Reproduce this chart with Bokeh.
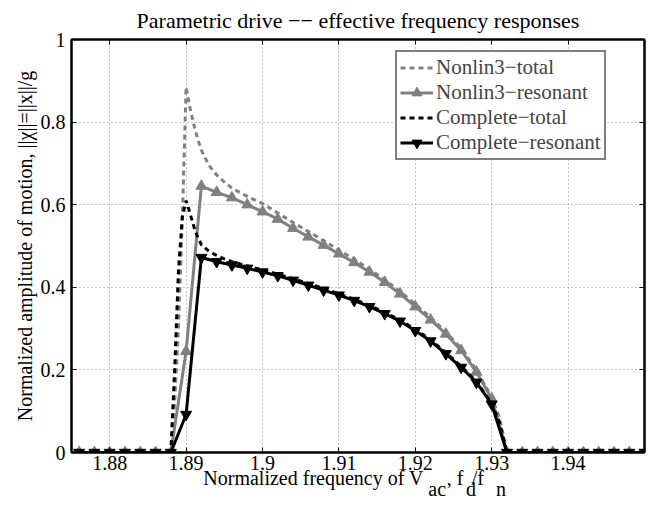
from bokeh.plotting import figure
from bokeh.models import Range1d, LinearAxis, FixedTicker, Label, Legend, LegendItem
from bokeh.embed import file_html
from bokeh.resources import INLINE

# ---------------- data ----------------
x_ticks = [1.88, 1.89, 1.90, 1.91, 1.92, 1.93, 1.94]
x_tick_labels = ["1.88", "1.89", "1.9", "1.91", "1.92", "1.93", "1.94"]
y_ticks = [0.0, 0.2, 0.4, 0.6, 0.8, 1.0]
y_tick_labels = ["0", "0.2", "0.4", "0.6", "0.8", "1"]

freq_res = [1.876, 1.878, 1.880, 1.882, 1.884, 1.886, 1.888,
            1.890, 1.892, 1.894, 1.896, 1.898, 1.900, 1.902, 1.904, 1.906,
            1.908, 1.910, 1.912, 1.914, 1.916, 1.918, 1.920, 1.922, 1.924,
            1.926, 1.928, 1.930,
            1.932, 1.934, 1.936, 1.938, 1.940, 1.942, 1.944, 1.946, 1.948, 1.950]
nonlin3_resonant = [0, 0, 0, 0, 0, 0, 0,
                    0.245, 0.645, 0.630, 0.617, 0.600, 0.583, 0.565, 0.543, 0.522,
                    0.502, 0.481, 0.460, 0.437, 0.412, 0.384, 0.353, 0.321, 0.287,
                    0.247, 0.195, 0.130,
                    0, 0, 0, 0, 0, 0, 0, 0, 0, 0]
complete_resonant = [0, 0, 0, 0, 0, 0, 0,
                     0.092, 0.472, 0.462, 0.454, 0.446, 0.437, 0.428, 0.417, 0.405,
                     0.393, 0.381, 0.368, 0.353, 0.336, 0.318, 0.295, 0.270, 0.239,
                     0.206, 0.170, 0.117,
                     0, 0, 0, 0, 0, 0, 0, 0, 0, 0]

freq_tot = [1.876, 1.878, 1.880, 1.882, 1.884, 1.886, 1.888,
            1.8885, 1.889, 1.8895, 1.890, 1.8905, 1.891, 1.8915, 1.892,
            1.893, 1.894, 1.895, 1.896, 1.898, 1.900, 1.902, 1.904, 1.906,
            1.908, 1.910, 1.912, 1.914, 1.916, 1.918, 1.920, 1.922, 1.924,
            1.926, 1.928, 1.930, 1.931,
            1.932, 1.934, 1.936, 1.938, 1.940, 1.942, 1.944, 1.946, 1.948, 1.950]
nonlin3_total = [0, 0, 0, 0, 0, 0, 0,
                 0.12, 0.30, 0.56, 0.885, 0.835, 0.795, 0.760, 0.732,
                 0.695, 0.672, 0.655, 0.640, 0.620, 0.603, 0.580, 0.557, 0.535,
                 0.513, 0.490, 0.468, 0.444, 0.418, 0.390, 0.359, 0.327, 0.292,
                 0.252, 0.200, 0.134, 0.085,
                 0, 0, 0, 0, 0, 0, 0, 0, 0, 0]
complete_total = [0, 0, 0, 0, 0, 0, 0,
                  0.20, 0.44, 0.57, 0.610, 0.580, 0.548, 0.522, 0.503,
                  0.487, 0.477, 0.469, 0.462, 0.452, 0.442, 0.432, 0.421, 0.409,
                  0.397, 0.384, 0.371, 0.356, 0.339, 0.321, 0.298, 0.273, 0.242,
                  0.209, 0.172, 0.119, 0.075,
                  0, 0, 0, 0, 0, 0, 0, 0, 0, 0]

series_names = ["Nonlin3\u2212total", "Nonlin3\u2212resonant",
                "Complete\u2212total", "Complete\u2212resonant"]
title_text = "Parametric drive \u2212\u2212 effective frequency responses"
ylabel_text = "Normalized amplitude of motion, ||\u03c7||=||x||/g"
# x label on two lines: main line (room left for the subscripts) and the subscript line
EM, SP3, SP4, SP6 = "\u2003", "\u2004", "\u2005", "\u2006"
xlabel_main = "Normalized frequency of V" + EM + SP6 + ", f" + SP4 + SP6 + "/f" + EM + SP4 + SP6
xlabel_subs = EM * 11 + SP4 + "ac" + EM + "d" + EM + "n" + SP3
xlabel_text = xlabel_main + "\n" + xlabel_subs

# ---------------- layout constants ----------------
W, H = 663, 508
FL, FR, FT, FB = 71, 644, 39, 452           # frame edges in page pixels
X0, X1, Y0, Y1 = 1.875, 1.95, 0.0, 1.0
SERIF = "Liberation Serif"
GRAY = "#808080"

p = figure(width=W, height=H, x_range=Range1d(X0, X1), y_range=Range1d(Y0, Y1),
           output_backend="svg", toolbar_location=None,
           min_border_left=FL, min_border_right=W - FR,
           min_border_top=FT, min_border_bottom=H - FB,
           background_fill_color="white", border_fill_color="white")
p.outline_line_color = "black"
p.outline_line_width = 2
p.title.text = ""

xax = p.xaxis[0]
yax = p.yaxis[0]
xax.ticker = FixedTicker(ticks=x_ticks)
xax.major_label_overrides = dict(zip(x_ticks, x_tick_labels))
yax.ticker = FixedTicker(ticks=y_ticks)
yax.major_label_overrides = dict(zip(y_ticks, y_tick_labels))
for ax, txt in [(xax, xlabel_text), (yax, ylabel_text)]:
    ax.axis_label = txt
    ax.axis_label_text_font = SERIF
    ax.axis_label_text_font_size = "20px"
    ax.axis_label_text_font_style = "normal"
    ax.axis_label_text_color = "black"
xax.axis_label_text_line_height = 0.5
yax.axis_label_standoff = 2
xax.axis_label_standoff = -6
xax.major_label_standoff = 3
yax.major_label_standoff = 6

top = LinearAxis(ticker=FixedTicker(ticks=x_ticks), major_label_text_color=None,
                 major_label_text_font_size="1px", major_label_standoff=0,
                 major_label_overrides={t: "" for t in x_ticks})
right = LinearAxis(ticker=FixedTicker(ticks=y_ticks), major_label_text_color=None,
                   major_label_text_font_size="1px", major_label_standoff=0,
                   major_label_overrides={t: "" for t in y_ticks})
p.add_layout(top, "above")
p.add_layout(right, "right")

for ax in [xax, yax, top, right]:
    ax.axis_line_color = "black"
    ax.axis_line_width = 2
    ax.major_tick_in = 5
    ax.major_tick_out = 0
    ax.major_tick_line_width = 1
    ax.minor_tick_line_color = None
    ax.major_label_text_font = SERIF
for ax in [xax, yax]:
    ax.major_label_text_font_size = "20px"
    ax.major_label_text_color = "black"

p.xgrid.ticker = FixedTicker(ticks=x_ticks)
p.ygrid.ticker = FixedTicker(ticks=y_ticks)
for g in [p.xgrid[0], p.ygrid[0]]:
    g.grid_line_color = "#8c8c8c"
    g.grid_line_width = 1
    g.grid_line_dash = "1 3"

r1 = p.line(freq_tot, nonlin3_total, line_color=GRAY, line_width=3, line_dash="5 4")
r2l = p.line(freq_res, nonlin3_resonant, line_color=GRAY, line_width=3)
r2m = p.scatter(freq_res, nonlin3_resonant, marker="triangle", size=11,
                fill_color=GRAY, line_color=GRAY)
r3 = p.line(freq_tot, complete_total, line_color="black", line_width=3, line_dash="5 4")
r4l = p.line(freq_res, complete_resonant, line_color="black", line_width=3)
r4m = p.scatter(freq_res, complete_resonant, marker="inverted_triangle", size=11,
                fill_color="black", line_color="black")

legend = Legend(items=[
    LegendItem(label=series_names[0], renderers=[r1]),
    LegendItem(label=series_names[1], renderers=[r2l, r2m]),
    LegendItem(label=series_names[2], renderers=[r3]),
    LegendItem(label=series_names[3], renderers=[r4l, r4m]),
], location=(395 - FL, FB - 160))
legend.label_text_font = SERIF
legend.label_text_font_size = "21px"
legend.label_standoff = 3
legend.glyph_width = 33
legend.glyph_height = 25
legend.label_height = 25
legend.spacing = -1
legend.padding = 3
legend.margin = 0
legend.border_line_color = "black"
legend.border_line_width = 2
legend.background_fill_color = "white"
legend.background_fill_alpha = 1
p.add_layout(legend)

# title, in the panel above the top axis (screen offsets inside that panel)
p.add_layout(Label(x=(FL + FR) / 2 - FL, y=19, x_units="screen", y_units="screen",
                   text=title_text, text_font=SERIF, text_font_size="22px",
                   text_align="center", text_baseline="alphabetic",
                   text_color="black"), "above")

open("out.html", "w").write(file_html(p, INLINE))
